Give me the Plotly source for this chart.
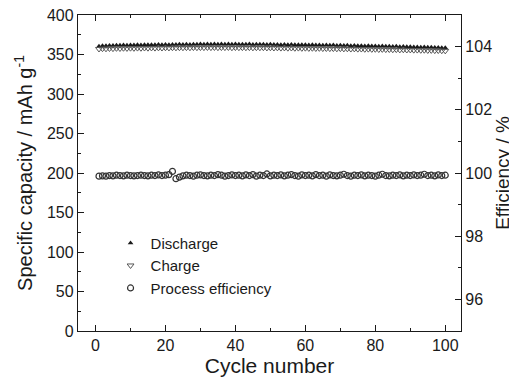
import plotly.graph_objects as go

cycles = list(range(1, 101))

discharge = [
    360.5, 361.0, 361.2, 361.5, 361.3, 361.8, 361.6, 362.0, 361.8, 362.1,
    362.0, 362.3, 362.1, 362.4, 362.2, 362.5, 362.3, 362.6, 362.4, 362.7,
    362.5, 362.8, 362.6, 362.9, 362.7, 363.0, 362.8, 363.1, 362.9, 363.2,
    363.0, 363.2, 363.1, 363.3, 363.0, 363.2, 363.1, 363.3, 362.9, 363.2,
    363.0, 363.1, 362.9, 363.2, 362.8, 363.0, 362.9, 363.1, 362.7, 362.9,
    362.6, 362.8, 362.5, 362.7, 362.4, 362.6, 362.3, 362.5, 362.2, 362.4,
    362.0, 362.2, 361.9, 362.1, 361.8, 362.0, 361.7, 361.9, 361.5, 361.7,
    361.4, 361.6, 361.2, 361.4, 361.0, 361.2, 360.9, 361.0, 360.7, 360.9,
    360.5, 360.7, 360.3, 360.5, 360.1, 360.3, 359.9, 360.1, 359.7, 359.8,
    359.5, 359.6, 359.3, 359.4, 359.1, 359.2, 358.9, 359.0, 358.7, 358.5,
]

charge = [
    357.0, 357.4, 357.2, 357.6, 357.4, 357.8, 357.6, 357.9, 357.7, 358.0,
    357.8, 358.1, 357.9, 358.2, 358.0, 358.3, 358.1, 358.4, 358.2, 358.5,
    358.3, 358.6, 358.4, 358.6, 358.5, 358.7, 358.5, 358.8, 358.6, 358.8,
    358.7, 358.9, 358.7, 358.9, 358.6, 358.8, 358.7, 358.9, 358.5, 358.8,
    358.6, 358.7, 358.5, 358.7, 358.4, 358.6, 358.5, 358.6, 358.3, 358.5,
    358.2, 358.4, 358.1, 358.3, 358.0, 358.2, 357.9, 358.1, 357.8, 358.0,
    357.7, 357.9, 357.6, 357.8, 357.5, 357.6, 357.4, 357.5, 357.2, 357.4,
    357.1, 357.2, 356.9, 357.1, 356.8, 356.9, 356.6, 356.8, 356.5, 356.6,
    356.3, 356.5, 356.2, 356.3, 356.0, 356.2, 355.8, 356.0, 355.7, 355.8,
    355.5, 355.6, 355.3, 355.4, 355.1, 355.2, 354.9, 355.0, 354.8, 354.6,
]

efficiency = [
    99.90, 99.91, 99.90, 99.92, 99.91, 99.93, 99.92, 99.91, 99.93, 99.92,
    99.91, 99.92, 99.93, 99.92, 99.91, 99.93, 99.92, 99.94, 99.92, 99.93,
    99.95, 100.05, 99.82, 99.87, 99.91, 99.93, 99.92, 99.90, 99.93, 99.94,
    99.92, 99.91, 99.93, 99.92, 99.95, 99.93, 99.90, 99.92, 99.94, 99.92,
    99.93, 99.91, 99.94, 99.92, 99.95, 99.90, 99.93, 99.92, 99.97, 99.91,
    99.93, 99.92, 99.94, 99.91, 99.93, 99.95, 99.92, 99.90, 99.94, 99.92,
    99.93, 99.91, 99.95, 99.92, 99.93, 99.90, 99.94, 99.92, 99.91, 99.93,
    99.96, 99.92, 99.90, 99.93, 99.92, 99.94, 99.91, 99.93, 99.92, 99.90,
    99.93, 99.96, 99.92, 99.91, 99.93, 99.92, 99.94, 99.91, 99.93, 99.92,
    99.94, 99.92, 99.93, 99.96, 99.92, 99.93, 99.91, 99.94, 99.92, 99.93,
]

ink = "#1a1a1a"
font = "Liberation Sans, Arial, sans-serif"

fig = go.Figure()
fig.add_trace(go.Scatter(
    x=cycles, y=discharge, mode="markers", name="Discharge",
    marker=dict(symbol="triangle-up", size=5, color=ink, line=dict(width=0)),
))
fig.add_trace(go.Scatter(
    x=cycles, y=charge, mode="markers", name="Charge",
    marker=dict(symbol="triangle-down-open", size=6, color="#555555", line=dict(width=1)),
))
fig.add_trace(go.Scatter(
    x=cycles, y=efficiency, mode="markers", name="Process efficiency", yaxis="y2",
    marker=dict(symbol="circle-open", size=6, color="#333333", line=dict(width=1.2)),
))

axis_common = dict(
    showline=True, linecolor=ink, linewidth=1.3, showgrid=False, zeroline=False,
    ticks="inside", ticklen=6, tickwidth=1.2, tickcolor=ink, automargin=False,
    ticklabeloverflow="allow",
    tickfont=dict(family=font, size=16, color=ink),
)

fig.update_layout(
    width=509, height=370,
    margin=dict(l=70, r=56, t=7, b=47),
    paper_bgcolor="white", plot_bgcolor="white",
    font=dict(family=font, color=ink),
    xaxis=dict(
        **axis_common, range=[-5, 104.5], tickvals=[0, 20, 40, 60, 80, 100],
        mirror="ticks", ticklabelstandoff=0,
        minor=dict(tickvals=[10, 30, 50, 70, 90], ticks="inside", ticklen=3, tickcolor=ink, tickwidth=1.2),
        title=dict(text="Cycle number", font=dict(family=font, size=21, color=ink), standoff=0),
    ),
    yaxis=dict(
        **axis_common, range=[0, 400], tickvals=[0, 50, 100, 150, 200, 250, 300, 350, 400],
        minor=dict(tickvals=[25, 75, 125, 175, 225, 275, 325, 375], ticks="inside", ticklen=3, tickcolor=ink, tickwidth=1.2),
        title=dict(text="Specific capacity / mAh g<sup>-1</sup>", font=dict(family=font, size=20, color=ink), standoff=8),
    ),
    yaxis2=dict(
        **axis_common, range=[95, 105], overlaying="y", side="right",
        tickvals=[96, 98, 100, 102, 104],
        minor=dict(tickvals=[95, 97, 99, 101, 103, 105], ticks="inside", ticklen=3, tickcolor=ink, tickwidth=1.2),
        title=dict(text="Efficiency / %", font=dict(family=font, size=19, color=ink), standoff=1),
    ),
    legend=dict(
        x=0.085, y=0.33, xanchor="left", yanchor="top",
        bgcolor="rgba(0,0,0,0)", font=dict(family=font, size=15, color=ink),
        itemwidth=30, tracegroupgap=0,
    ),
    showlegend=True,
)

fig.write_html("out.html")
